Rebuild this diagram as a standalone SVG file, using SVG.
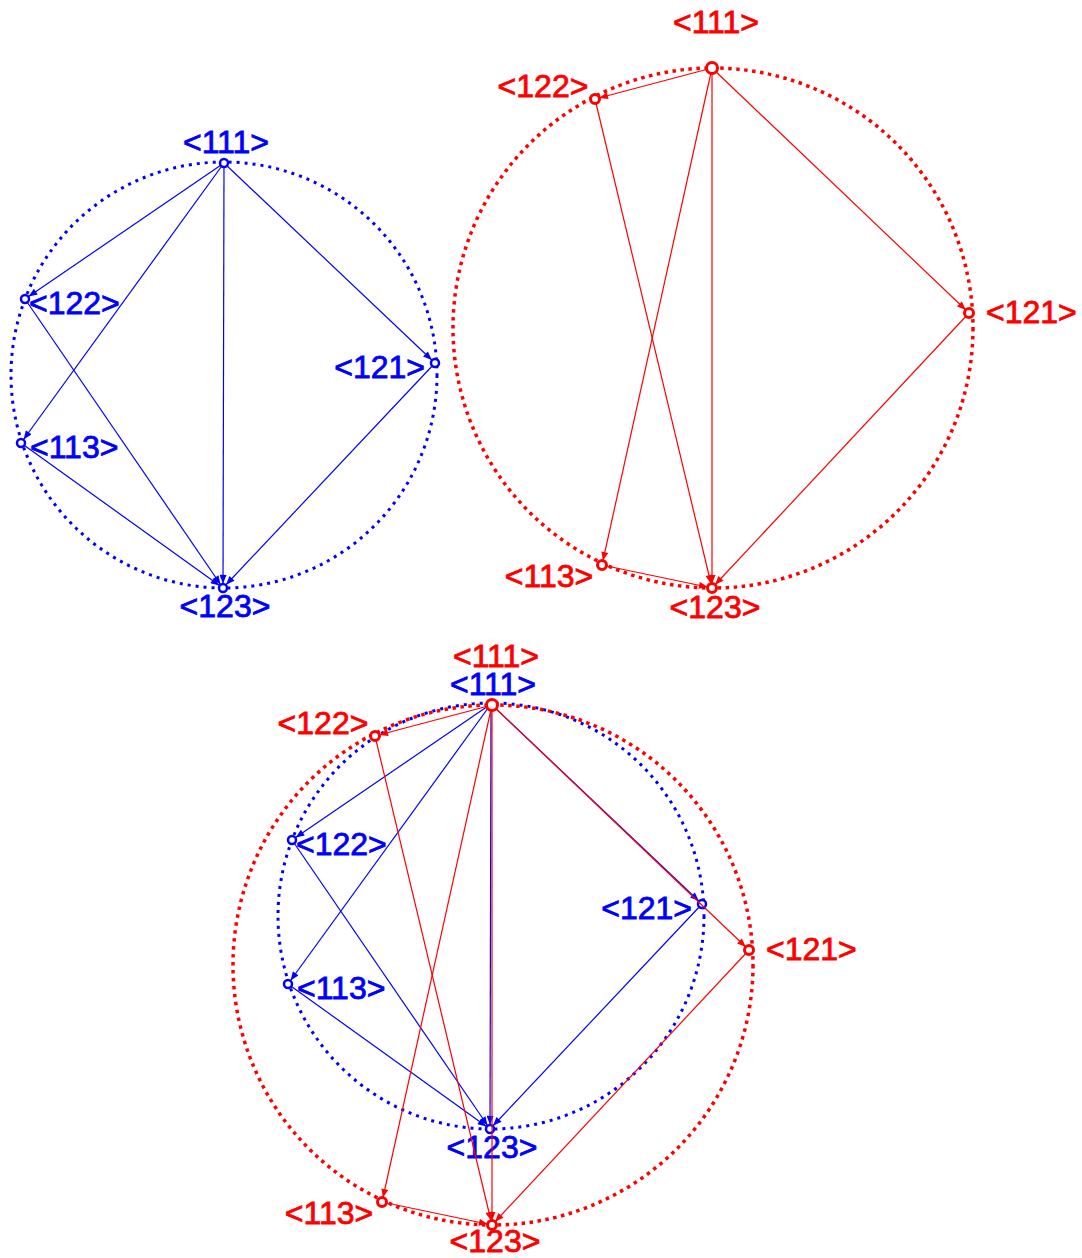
<svg xmlns="http://www.w3.org/2000/svg" width="1082" height="1258" viewBox="0 0 1082 1258">
<style>
  .bg{fill:#ffffff}
  .ringB{fill:none;stroke:#0000ff;stroke-width:3;stroke-dasharray:3 5}
  .ringR{fill:none;stroke:#ff0000;stroke-width:3.5;stroke-dasharray:3.5 4.5}
  .eB{stroke:#0000ff;stroke-width:1.2;fill:none;marker-end:url(#arrB)}
  .eR{stroke:#ff0000;stroke-width:1.2;fill:none;marker-end:url(#arrR)}
  .nB{fill:#ffffff;stroke:#0000ff;stroke-width:2.5}
  .nR{fill:#ffffff;stroke:#ff0000;stroke-width:3}
  .tB{font-family:"Liberation Sans",Arial,sans-serif;font-size:32px;fill:#0000ff;stroke:#0000ff;stroke-width:0.8}
  .tR{font-family:"Liberation Sans",Arial,sans-serif;font-size:32px;fill:#ff0000;stroke:#ff0000;stroke-width:0.8}
  .m{text-anchor:middle}
  .e{text-anchor:end}
</style>
<defs>
  <marker id="arrB" viewBox="0 0 10 8" refX="15" refY="4" markerWidth="10" markerHeight="7" markerUnits="userSpaceOnUse" orient="auto">
    <path d="M0,0 L10,4 L0,8 z" fill="#0000ff"/>
  </marker>
  <marker id="arrR" viewBox="0 0 10 8" refX="15" refY="4" markerWidth="10" markerHeight="7" markerUnits="userSpaceOnUse" orient="auto">
    <path d="M0,0 L10,4 L0,8 z" fill="#ff0000"/>
  </marker>
</defs>
<rect class="bg" x="0" y="0" width="1082" height="1258"/>

<!-- Blue graph, top left -->
<g id="blueTop">
  <circle class="ringB" cx="224" cy="375" r="213"/>
  <g id="blueTop-connectors">
    <line class="eB" x1="224" y1="163" x2="25" y2="299"/>
    <line class="eB" x1="224" y1="163" x2="21" y2="443"/>
    <line class="eB" x1="224" y1="163" x2="223" y2="588"/>
    <line class="eB" x1="224" y1="163" x2="435" y2="363"/>
    <line class="eB" x1="25" y1="299" x2="223" y2="588"/>
    <line class="eB" x1="21" y1="443" x2="223" y2="588"/>
    <line class="eB" x1="435" y1="363" x2="223" y2="588"/>
  </g>
  <g id="bt-111"><circle class="nB" cx="224" cy="163" r="4"/><text class="tB m" x="226" y="153">&lt;111&gt;</text></g>
  <g id="bt-122"><circle class="nB" cx="25" cy="299" r="4"/><text class="tB" x="29" y="314">&lt;122&gt;</text></g>
  <g id="bt-121"><circle class="nB" cx="435" cy="363" r="4"/><text class="tB e" x="425" y="378">&lt;121&gt;</text></g>
  <g id="bt-113"><circle class="nB" cx="21" cy="443" r="4"/><text class="tB" x="30" y="458">&lt;113&gt;</text></g>
  <g id="bt-123"><circle class="nB" cx="223" cy="588" r="4"/><text class="tB m" x="225" y="617">&lt;123&gt;</text></g>
</g>

<!-- Red graph, top right -->
<g id="redTop">
  <circle class="ringR" cx="713" cy="328" r="260"/>
  <g id="redTop-connectors">
    <line class="eR" x1="712" y1="68" x2="595" y2="99"/>
    <line class="eR" x1="712" y1="68" x2="602" y2="565"/>
    <line class="eR" x1="712" y1="68" x2="712" y2="588"/>
    <line class="eR" x1="712" y1="68" x2="969" y2="313"/>
    <line class="eR" x1="595" y1="99" x2="712" y2="588"/>
    <line class="eR" x1="602" y1="565" x2="712" y2="588"/>
    <line class="eR" x1="969" y1="313" x2="712" y2="588"/>
  </g>
  <g id="rt-111"><circle class="nR" cx="712" cy="68" r="5.5"/><text class="tR m" x="716" y="33">&lt;111&gt;</text></g>
  <g id="rt-122"><circle class="nR" cx="595" cy="99" r="4.5"/><text class="tR m" x="543" y="97">&lt;122&gt;</text></g>
  <g id="rt-121"><circle class="nR" cx="969" cy="313" r="4.5"/><text class="tR" x="986" y="323">&lt;121&gt;</text></g>
  <g id="rt-113"><circle class="nR" cx="602" cy="565" r="4.5"/><text class="tR m" x="549" y="587">&lt;113&gt;</text></g>
  <g id="rt-123"><circle class="nR" cx="712" cy="588" r="4.5"/><text class="tR m" x="715" y="618">&lt;123&gt;</text></g>
</g>

<!-- Combined, bottom: blue layer -->
<g id="blueBottom" transform="translate(267,541)">
  <circle class="ringB" cx="224" cy="375" r="213"/>
  <g id="blueBottom-connectors">
    <line class="eB" x1="224" y1="163" x2="25" y2="299"/>
    <line class="eB" x1="224" y1="163" x2="21" y2="443"/>
    <line class="eB" x1="224" y1="163" x2="223" y2="588"/>
    <line class="eB" x1="224" y1="163" x2="435" y2="363"/>
    <line class="eB" x1="25" y1="299" x2="223" y2="588"/>
    <line class="eB" x1="21" y1="443" x2="223" y2="588"/>
    <line class="eB" x1="435" y1="363" x2="223" y2="588"/>
  </g>
  <g id="bb-111"><circle class="nB" cx="224" cy="163" r="4"/><text class="tB m" x="226" y="154">&lt;111&gt;</text></g>
  <g id="bb-122"><circle class="nB" cx="25" cy="299" r="4"/><text class="tB" x="29" y="314">&lt;122&gt;</text></g>
  <g id="bb-121"><circle class="nB" cx="435" cy="363" r="4"/><text class="tB e" x="425" y="378">&lt;121&gt;</text></g>
  <g id="bb-113"><circle class="nB" cx="21" cy="443" r="4"/><text class="tB" x="30" y="458">&lt;113&gt;</text></g>
  <g id="bb-123"><circle class="nB" cx="223" cy="588" r="4"/><text class="tB m" x="225" y="617">&lt;123&gt;</text></g>
</g>

<!-- Combined, bottom: red layer -->
<g id="redBottom" transform="translate(-220,637)">
  <circle class="ringR" cx="713" cy="328" r="260"/>
  <g id="redBottom-connectors">
    <line class="eR" x1="712" y1="68" x2="595" y2="99"/>
    <line class="eR" x1="712" y1="68" x2="602" y2="565"/>
    <line class="eR" x1="712" y1="68" x2="712" y2="588"/>
    <line class="eR" x1="712" y1="68" x2="969" y2="313"/>
    <line class="eR" x1="595" y1="99" x2="712" y2="588"/>
    <line class="eR" x1="602" y1="565" x2="712" y2="588"/>
    <line class="eR" x1="969" y1="313" x2="712" y2="588"/>
  </g>
  <g id="rb-111"><circle class="nR" cx="712" cy="68" r="5.5"/><text class="tR m" x="716" y="30">&lt;111&gt;</text></g>
  <g id="rb-122"><circle class="nR" cx="595" cy="99" r="4.5"/><text class="tR m" x="543" y="97">&lt;122&gt;</text></g>
  <g id="rb-121"><circle class="nR" cx="969" cy="313" r="4.5"/><text class="tR" x="986" y="323">&lt;121&gt;</text></g>
  <g id="rb-113"><circle class="nR" cx="602" cy="565" r="4.5"/><text class="tR m" x="549" y="587">&lt;113&gt;</text></g>
  <g id="rb-123"><circle class="nR" cx="712" cy="588" r="4.5"/><text class="tR m" x="715" y="615">&lt;123&gt;</text></g>
</g>
</svg>
